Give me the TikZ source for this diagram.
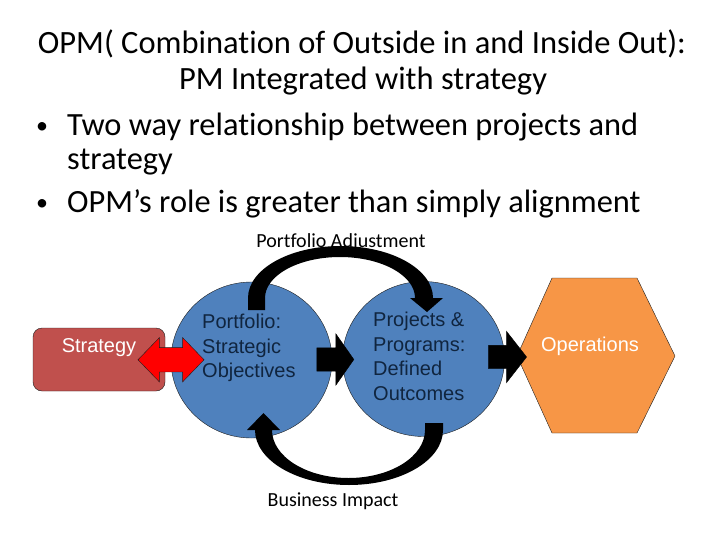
\documentclass[tikz,border=0pt]{standalone}
\usepackage{fontspec}
\setmainfont{Carlito}[Ligatures=NoCommon]
\newfontfamily\shapefont{Liberation Sans}
\usetikzlibrary{shapes.geometric, shapes.arrows, arrows.meta, positioning, calc}
\definecolor{colRed}{RGB}{192,80,77}
\definecolor{colBlue}{RGB}{79,129,189}
\definecolor{colOrange}{RGB}{247,150,70}
\definecolor{colNavy}{RGB}{16,37,63}
\definecolor{colBorder}{RGB}{30,30,30}
\tikzset{
    headtext/.style={font=\fontsize{32.5}{38}\selectfont, inner sep=0pt, anchor=base},
    bullettext/.style={font=\fontsize{32.4}{38}\selectfont, inner sep=0pt, anchor=base west},
    dotmark/.style={font=\fontsize{24}{28}\selectfont, inner sep=0pt, anchor=base},
    arclabel/.style={font=\fontsize{20}{24}\selectfont, inner sep=0pt, anchor=base},
    stratbox/.style={rectangle, rounded corners=9pt, draw=colBorder, fill=colRed,
        minimum width=132pt, minimum height=63pt, inner sep=0pt},
    goalshape/.style={ellipse, draw=colBorder, fill=colBlue, inner sep=0pt},
    shapetext/.style={font=\shapefont\fontsize{20}{24.5}\selectfont, align=left,
        inner sep=0pt, text=colNavy},
    blockarrow/.style={single arrow, fill=black, draw=black, inner xsep=0pt,
        inner ysep=11.5pt, single arrow head extend=14pt},
    bentarrow/.style={fill=black}
}

\begin{document}
\begin{tikzpicture}[x=1pt, y=-1pt]
    \useasboundingbox (0,0) rectangle (728,546);

    % heading and bullets
    \node[headtext] (titleA) at (362,53) {OPM( Combination of Outside in and Inside Out):};
    \node[headtext] (titleB) at (363,89) {PM Integrated with strategy};
    \node[dotmark] (dotOne) at (42,133) {\textbullet};
    \node[bullettext] (pointOne) at (67,135) {Two way relationship between projects and};
    \node[bullettext] (pointOneB) at (67,169) {strategy};
    \node[dotmark] (dotTwo) at (42,210) {\textbullet};
    \node[bullettext] (pointTwo) at (67,212) {OPM’s role is greater than simply alignment};

    % shapes
    \node[stratbox] (strategy) at (99,359.5) {};
    \node[goalshape, minimum width=161pt, minimum height=156pt] (portfolio) at (251.5,360) {};
    \node[goalshape, minimum width=162pt, minimum height=155pt] (projects) at (423.5,359) {};
    \draw[colBorder, fill=colOrange] (517,356) -- (552,278) -- (637,278) -- (675,356)
        -- (637,433) -- (552,433) -- cycle;

    \node[shapetext, text=white] (strategyText) at ([yshift=12pt]strategy.center) {Strategy};
    \node[shapetext, anchor=west] (portfolioText) at (202,348) {Portfolio:\\Strategic\\Objectives};
    \node[shapetext, anchor=west] (projectsText) at (373,356.5) {Projects \&\\Programs:\\Defined\\Outcomes};
    \node[shapetext, text=white] (operations) at (590,346) {Operations};

    % block arrows
    \node[double arrow, fill=red, draw=colBorder, inner xsep=0pt, inner ysep=12pt,
        minimum height=66pt, double arrow head extend=10pt, double arrow tip angle=92]
        (strategyLink) at ($(strategy.east)!0.5!(portfolio.west)+(3,0)$) {};
    \node[blockarrow, minimum height=37pt, single arrow tip angle=110] (toProjects)
        at ($(portfolio.east)!0.5!(projects.west)+(-6,0)$) {};
    \node[blockarrow, minimum height=38pt, single arrow tip angle=104] (toOperations)
        at (503,357) {};

    % curved arrows
    \fill[bentarrow] (248,310) -- (248,298)
        arc[start angle=180, end angle=360, x radius=92.5, y radius=52]
        -- (443,298) -- (427,312) -- (410,298) -- (415,298)
        arc[start angle=360, end angle=180, x radius=75, y radius=41]
        -- (265,310) -- cycle;
    \fill[bentarrow] (425,423) -- (443,423) -- (443,430)
        arc[start angle=0, end angle=180, x radius=94, y radius=55]
        -- (247,430) -- (263.5,413) -- (280,430) -- (272,430)
        arc[start angle=180, end angle=0, x radius=76.5, y radius=48]
        -- cycle;

    \node[arclabel] (adjustLabel) at (341,247) {Portfolio Adjustment};
    \node[arclabel] (impactLabel) at (333,506) {Business Impact};
\end{tikzpicture}
\end{document}
